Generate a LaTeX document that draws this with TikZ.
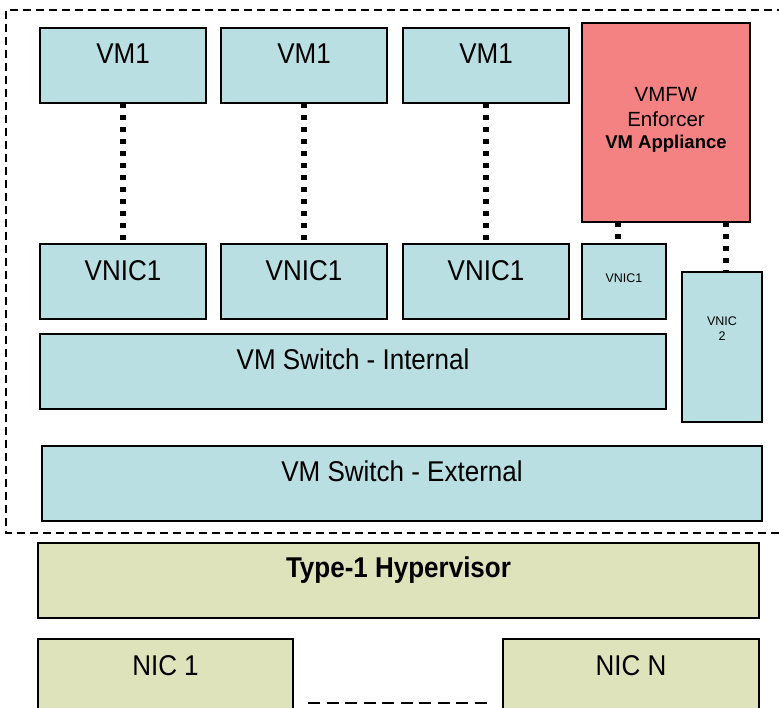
\documentclass[tikz,border=0pt]{standalone}
\usepackage{fontspec}
\setmainfont{Liberation Sans}
\usetikzlibrary{calc}

\definecolor{vmblue}{HTML}{BADFE2}
\definecolor{fwred}{HTML}{F48282}
\definecolor{hwolive}{HTML}{DFE3BB}

% slightly tall lettering for the box labels
\newcommand{\tallbox}[1]{\scalebox{1}[1.1]{#1}}

\tikzset{
  box/.style={draw=black, line width=1.5pt, inner sep=0pt, outer sep=0pt,
              anchor=north west},
  bluebox/.style={box, fill=vmblue},
  redbox/.style={box, fill=fwred},
  olivebox/.style={box, fill=hwolive},
  lbl/.style={anchor=base, inner sep=0pt, font=\fontsize{26}{29}\selectfont},
  lblbold/.style={lbl, font=\fontsize{26}{29}\selectfont\bfseries},
  lblmid/.style={anchor=base, inner sep=0pt, font=\fontsize{20.5}{24}\selectfont},
  lblsmall/.style={anchor=base, inner sep=0pt, font=\fontsize{12.5}{15}\selectfont},
  link/.style={line width=5.5pt, dash pattern=on 5.5pt off 6.5pt},
  hostline/.style={line width=1.5pt, dash pattern=on 8pt off 5pt},
  niclink/.style={line width=1.8pt, dash pattern=on 12pt off 6.5pt},
}

\begin{document}
\begin{tikzpicture}[x=1pt, y=-1pt]
  \useasboundingbox (0,0) rectangle (779,708);

  % host boundary (runs off the right edge)
  \coordinate (hostTR) at (785,10);
  \coordinate (hostTL) at (6,10);
  \coordinate (hostBL) at (6,533);
  \coordinate (hostBR) at (785,533);
  \draw[hostline] (hostTR) -- (hostTL) -- (hostBL) -- (hostBR);

  % guest VMs
  \node[bluebox, minimum width=166pt, minimum height=75pt] (vma) at (40,28) {};
  \node[bluebox, minimum width=166pt, minimum height=75pt] (vmb) at (221,28) {};
  \node[bluebox, minimum width=166pt, minimum height=75pt] (vmc) at (403,28) {};
  \node[lbl] (tvma) at (vma.center |- 0,64) {\tallbox{VM1}};
  \node[lbl] (tvmb) at (vmb.center |- 0,64) {\tallbox{VM1}};
  \node[lbl] (tvmc) at (vmc.center |- 0,64) {\tallbox{VM1}};

  % firewall appliance
  \node[redbox, minimum width=168pt, minimum height=199pt] (fw) at (582,23) {};
  \node[lblmid] (tfwa) at (fw.center |- 0,102) {VMFW};
  \node[lblmid] (tfwb) at (fw.center |- 0,127) {Enforcer};
  \node[lblmid, font=\fontsize{18.5}{22}\selectfont\bfseries] (tfwc) at (fw.center |- 0,149) {VM Appliance};

  % virtual NICs
  \node[bluebox, minimum width=166pt, minimum height=75pt] (nica) at (40,244) {};
  \node[bluebox, minimum width=166pt, minimum height=75pt] (nicb) at (221,244) {};
  \node[bluebox, minimum width=166pt, minimum height=75pt] (nicc) at (403,244) {};
  \node[lbl] (tnica) at (nica.center |- 0,281) {\tallbox{VNIC1}};
  \node[lbl] (tnicb) at (nicb.center |- 0,281) {\tallbox{VNIC1}};
  \node[lbl] (tnicc) at (nicc.center |- 0,281) {\tallbox{VNIC1}};

  \node[bluebox, minimum width=84pt, minimum height=75pt] (fwnica) at (582,244) {};
  \node[lblsmall] (tfwnica) at (fwnica.center |- 0,283) {VNIC1};
  \node[bluebox, minimum width=80pt, minimum height=150pt] (fwnicb) at (682,272) {};
  \node[lblsmall] (tfwnicb) at (fwnicb.center |- 0,326) {VNIC};
  \node[lblsmall] (tfwnicc) at (fwnicb.center |- 0,341) {2};

  % VM to VNIC bindings
  \draw[link] (vma.south) -- (nica.north);
  \draw[link] (vmb.south) -- (nicb.north);
  \draw[link] (vmc.south) -- (nicc.north);
  \draw[link] (fw.south -| 618,0) -- (fwnica.north -| 618,0);
  \draw[link] (fw.south -| 726,0) -- (fwnicb.north -| 726,0);

  % virtual switches
  \node[bluebox, minimum width=626pt, minimum height=75pt] (swint) at (40,334) {};
  \node[lbl] (tswint) at (swint.center |- 0,370) {\tallbox{VM Switch - Internal}};
  \node[bluebox, minimum width=720pt, minimum height=75pt] (swext) at (42,446) {};
  \node[lbl] (tswext) at (swext.center |- 0,481) {\tallbox{VM Switch - External}};

  % hypervisor and physical NICs
  \node[olivebox, minimum width=721pt, minimum height=75pt] (hyp) at (38,543) {};
  \node[lblbold] (thyp) at (hyp.center |- 0,577) {\tallbox{Type-1 Hypervisor}};

  \node[olivebox, minimum width=255pt, minimum height=80pt] (pnica) at (38,639) {};
  \node[olivebox, minimum width=256pt, minimum height=80pt] (pnicn) at (503,639) {};
  \node[lbl] (tpnica) at (pnica.center |- 0,675) {\tallbox{NIC 1}};
  \node[lbl] (tpnicn) at (pnicn.center |- 0,675) {\tallbox{NIC N}};

  \coordinate (gapL) at (308,703);
  \coordinate (gapR) at (490,703);
  \draw[niclink] (gapL) -- (gapR);
\end{tikzpicture}
\end{document}
